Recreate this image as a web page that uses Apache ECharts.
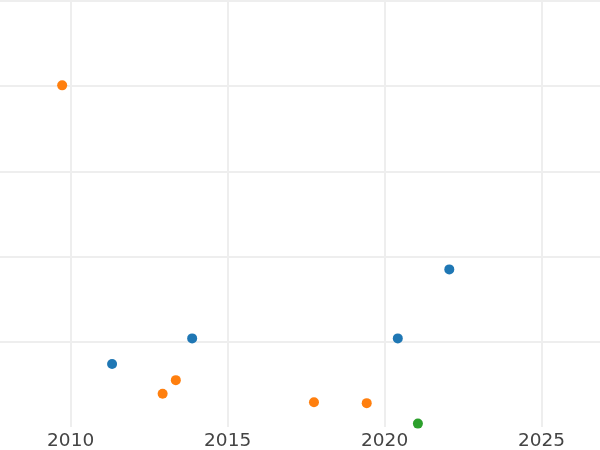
<!DOCTYPE html>
<html>
<head>
<meta charset="utf-8">
<script src="https://cdn.jsdelivr.net/npm/echarts@6/dist/echarts.min.js"></script>
<style>html,body{margin:0;padding:0;background:#fff}#c{width:600px;height:450px}</style>
</head>
<body>
<div id="c"></div>
<script>
const xTicks = [2010, 2015, 2020, 2025];
const xRange = [2007.75, 2026.86];
const blueX = [2011.32, 2013.87, 2020.42, 2022.06];
const blueY = [0.74, 1.04, 1.04, 1.85];
const orangeX = [2009.73, 2012.93, 2013.35, 2017.75, 2019.43];
const orangeY = [4.01, 0.39, 0.55, 0.29, 0.28];
const greenX = [2021.06];
const greenY = [0.04];

const zip = (xs, ys) => xs.map((x, i) => [x, ys[i]]);
const chart = echarts.init(document.getElementById('c'), null, {renderer: 'canvas'});
chart.setOption({
  animation: false,
  backgroundColor: '#ffffff',
  grid: {left: 0, right: 0, top: 1, bottom: 23, containLabel: false, outerBoundsMode: 'none'},
  xAxis: {
    type: 'value',
    min: xRange[0], max: xRange[1],
    axisLine: {show: false},
    axisTick: {show: false, customValues: xTicks},
    axisLabel: {color: '#444444', fontSize: 18.5, fontFamily: 'DejaVu Sans', margin: 5,
      customValues: xTicks, formatter: v => String(v)},
    splitLine: {show: true, lineStyle: {color: '#eeeeee', width: 2}}
  },
  yAxis: {
    type: 'value', min: 0, max: 5, interval: 1,
    axisLine: {show: false}, axisTick: {show: false}, axisLabel: {show: false},
    splitLine: {show: true, showMinLine: false, lineStyle: {color: '#eeeeee', width: 2}}
  },
  series: [
    {name: 'Blue', type: 'scatter', symbolSize: 10, itemStyle: {color: '#1f77b4', opacity: 1}, data: zip(blueX, blueY)},
    {name: 'Orange', type: 'scatter', symbolSize: 10, itemStyle: {color: '#ff7f0e', opacity: 1}, data: zip(orangeX, orangeY)},
    {name: 'Green', type: 'scatter', symbolSize: 10, itemStyle: {color: '#2ca02c', opacity: 1}, data: zip(greenX, greenY)}
  ]
});
</script>
</body>
</html>
